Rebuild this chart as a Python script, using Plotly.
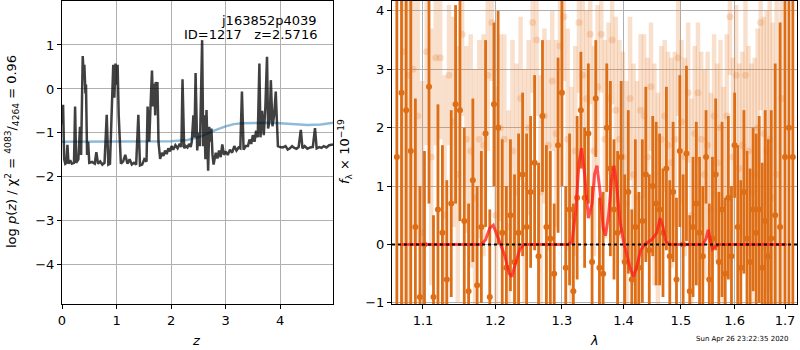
import plotly.graph_objects as go

# ---------------- left panel: log p(z) ----------------
z_grid = [0.00, 0.02, 0.04, 0.06, 0.08, 0.10, 0.12, 0.15, 0.18, 0.22, 0.24, 0.26, 0.30, 0.33, 0.35,
          0.38, 0.40, 0.41, 0.43, 0.44, 0.46, 0.48, 0.50, 0.55, 0.60, 0.63, 0.66, 0.70, 0.74, 0.78,
          0.82, 0.85, 0.88, 0.92, 0.94, 0.96, 0.98, 1.00, 1.02, 1.04, 1.06, 1.08, 1.12, 1.16, 1.20,
          1.24, 1.28, 1.32, 1.36, 1.40, 1.43, 1.47, 1.51, 1.55, 1.57, 1.60, 1.62, 1.65, 1.67, 1.69,
          1.71, 1.72, 1.74, 1.75, 1.77, 1.80, 1.83, 1.86, 1.89, 1.92, 1.95, 1.98, 2.01, 2.04, 2.08,
          2.12, 2.16, 2.19, 2.21, 2.24, 2.27, 2.30, 2.33, 2.36, 2.38, 2.41, 2.43, 2.45, 2.48, 2.50,
          2.53, 2.55, 2.57, 2.59, 2.61, 2.63, 2.65, 2.68, 2.70, 2.72, 2.74, 2.76, 2.78, 2.82, 2.85,
          2.88, 2.91, 2.94, 2.97, 3.00, 3.04, 3.08, 3.12, 3.16, 3.20, 3.24, 3.27, 3.30, 3.33, 3.37,
          3.41, 3.44, 3.47, 3.50, 3.53, 3.56, 3.59, 3.62, 3.64, 3.67, 3.70, 3.73, 3.76, 3.78, 3.81,
          3.83, 3.86, 3.89, 3.92, 3.94, 3.96, 4.00, 4.05, 4.10, 4.14, 4.18, 4.22, 4.26, 4.30, 4.34,
          4.38, 4.41, 4.45, 4.50, 4.55, 4.60, 4.64, 4.67, 4.72, 4.76, 4.80, 4.85, 4.90, 4.97]
logpz = [-0.80, -0.36, -1.60, -1.70, -1.68, -1.27, -1.70, -1.62, -1.70, -1.68, -0.40, -1.68, -1.60, -0.86, -1.50,
         0.75, 0.30, 0.55, -0.10, 0.10, -1.50, -1.20, -1.68, -1.66, -1.70, -1.44, -1.70, -1.65, -1.72, -1.68,
         -0.59, -1.72, -1.70, -0.30, 0.55, -0.20, 0.58, 0.10, 0.55, -0.60, -1.30, -1.70, -1.65, -1.50, -1.70,
         -1.60, -1.72, -1.68, -1.72, -0.59, -1.74, -1.72, -1.60, -1.65, -0.40, -1.20, -0.50, 0.42, -0.40, 0.12,
         -0.60, 0.16, -0.20, 0.16, -1.21, -1.59, -1.45, -1.52, -1.40, -1.48, -1.35, -1.42, -1.30, -1.38, -1.28,
         -1.35, -1.25, -1.32, 0.22, -1.35, -1.30, -1.33, -1.25, -1.32, -1.20, -0.60, -1.10, 0.36, -1.40, -1.00,
         -1.30, 0.20, 1.11, -1.30, -0.60, -1.60, -0.48, -1.86, -0.86, -1.20, -0.90, -1.50, -1.72, -1.45, -1.58,
         -1.40, -1.55, -1.26, -1.50, -1.42, -1.50, -1.38, -1.45, -1.30, -1.40, -1.33, -1.35, -0.06, -1.38, -1.30,
         -1.30, -1.15, -1.25, -1.05, -1.20, -0.95, -1.10, 0.58, -1.10, -0.50, -1.05, -0.40, 0.73, -0.90, -0.70,
         0.20, -0.85, -0.60, -0.06, -0.70, -1.30, -1.32, -1.33, -1.30, -1.38, -1.35, -1.30, -1.34, -1.36, -1.32,
         -0.93, -1.35, -1.30, -1.36, -1.33, -1.32, -0.89, -1.35, -1.32, -1.34, -1.30, -1.33, -1.28, -1.26]

z_prior = [0.0, 0.5, 1.0, 1.5, 2.0, 2.3, 2.5, 2.7, 2.8, 3.0, 3.15, 3.3, 3.5, 3.8, 4.0, 4.2, 4.5, 4.75, 4.97]
logp_prior = [-1.20, -1.20, -1.20, -1.20, -1.19, -1.16, -1.10, -1.00, -0.94, -0.85, -0.80, -0.78, -0.77, -0.77,
              -0.78, -0.80, -0.82, -0.81, -0.77]

# ---------------- right panel: spectrum ----------------
wave_dark = [1.066, 1.072, 1.078, 1.084, 1.090, 1.096, 1.102, 1.108, 1.114, 1.120, 1.126, 1.132, 1.138, 1.144,
             1.150, 1.156, 1.162, 1.168, 1.174, 1.180, 1.186, 1.192, 1.198, 1.204, 1.210, 1.216, 1.222, 1.228,
             1.234, 1.240, 1.246, 1.252, 1.258, 1.264, 1.270, 1.276, 1.282, 1.288, 1.294, 1.300, 1.306, 1.312,
             1.318, 1.324, 1.330, 1.336, 1.342, 1.348, 1.354, 1.360, 1.366, 1.372, 1.378, 1.384, 1.390, 1.396,
             1.402, 1.408, 1.414, 1.420, 1.426, 1.432, 1.438, 1.444, 1.450, 1.456, 1.462, 1.468, 1.474, 1.480,
             1.486, 1.492, 1.498, 1.504, 1.510, 1.516, 1.522, 1.528, 1.534, 1.540, 1.546, 1.552, 1.558, 1.564,
             1.570, 1.576, 1.582, 1.588, 1.594, 1.600, 1.606, 1.612, 1.618, 1.624, 1.630, 1.636, 1.642, 1.648,
             1.654, 1.660, 1.666, 1.672, 1.680, 1.690, 1.700, 1.708, 1.716]
flux_dark = [1.5, 2.6, 2.3, 1.6, 0.3, -0.9, 0.0, 2.7, -0.9, 0.6, 0.2, -0.6, 0.7, 2.4,
             2.3, 0.4, -0.8, 1.1, -0.7, 0.3, 1.9, -0.9, 2.4, 2.0, 0.2, -0.4, 0.5, -0.3,
             0.2, 1.2, 0.3, 0.9, 1.4, -0.2, 2.2, 0.3, 0.1, -0.5, 1.7, 2.6, -0.4, 0.6,
             -0.8, 0.8, 2.3, 0.8, 1.9, -0.3, 2.5, -0.4, -0.5, 2.0, 1.3, 0.6, 0.2, 1.5,
             -0.3, 0.9, -0.6, 0.3, -0.4, 0.4, 1.2, -0.1, 1.0, 0.7, 0.6, 0.2, 1.3, -0.2,
             0.9, -0.6, 1.6, 0.0, 1.56, -0.8, 0.3, 0.7, 0.2, -0.2, 1.5, -0.6, 0.1, 1.2,
             -0.3, 0.6, -0.5, 0.8, -0.2, 1.7, 0.3, -0.4, 0.9, 0.1, -0.3, 0.6, 0.2, 0.6,
             -0.4, 0.4, -0.2, 0.1, 0.5, 0.3, 1.5, 2.0, 1.5]
err_dark = [6.0, 6.0, 5.5, 2.8, 2.2, 1.9, 1.6, 2.0, 1.4, 1.8, 1.5, 1.7, 1.6, 1.7,
            1.9, 1.6, 1.5, 1.4, 1.7, 1.3, 1.6, 1.5, 1.4, 2.0, 1.6, 1.4, 1.3, 1.5,
            1.7, 1.4, 1.6, 1.3, 1.5, 1.6, 1.3, 1.4, 1.5, 1.2, 1.5, 1.6, 1.4, 1.3,
            1.5, 1.4, 1.0, 1.2, 1.2, 1.3, 1.0, 1.2, 1.4, 1.1, 1.5, 1.2, 1.4, 1.3,
            1.5, 1.4, 1.2, 1.5, 1.3, 1.4, 1.5, 1.3, 1.2, 1.4, 1.3, 1.1, 1.4, 1.3,
            1.2, 1.4, 1.3, 1.2, 1.5, 1.3, 1.2, 1.4, 1.3, 1.2, 0.8, 1.3, 1.4, 1.3,
            1.2, 1.5, 1.3, 1.4, 1.2, 0.9, 1.4, 1.5, 1.4, 1.5, 1.6, 1.4, 1.7, 1.6,
            1.8, 1.9, 2.0, 2.2, 2.6, 3.5, 6.0, 6.0, 6.0]

wave_light = [1.075, 1.081, 1.087, 1.093, 1.099, 1.105, 1.111, 1.117, 1.123, 1.129, 1.135, 1.141, 1.147, 1.153,
              1.159, 1.165, 1.171, 1.177, 1.183, 1.189, 1.195, 1.201, 1.207, 1.213, 1.219, 1.225, 1.231, 1.237,
              1.243, 1.249, 1.255, 1.261, 1.267, 1.273, 1.279, 1.285, 1.291, 1.297, 1.303, 1.309, 1.315, 1.321,
              1.327, 1.333, 1.339, 1.345, 1.351, 1.357, 1.363, 1.369, 1.375, 1.381, 1.387, 1.393, 1.399, 1.405,
              1.411, 1.417, 1.423, 1.429, 1.435, 1.441, 1.447, 1.453, 1.459, 1.465, 1.471, 1.477, 1.483, 1.489,
              1.495, 1.501, 1.507, 1.513, 1.519, 1.525, 1.531, 1.537, 1.543, 1.549, 1.555, 1.561, 1.567, 1.573,
              1.579, 1.585, 1.591, 1.597, 1.603, 1.609, 1.615, 1.621, 1.627, 1.633, 1.639, 1.645, 1.651, 1.657,
              1.663, 1.669, 1.675, 1.683, 1.693]
flux_light = [3.3, 2.9, 3.0, 2.2, 0.2, 3.3, 1.5, 3.2, 3.2, 0.5, 2.9, 2.1, 1.2, 3.6,
              1.8, 1.6, 0.8, 1.8, 1.7, 2.9, 3.8, 0.5, 2.0, 1.8, 0.3, 1.6, 0.9, 2.5,
              1.0, 2.0, 3.8, 3.5, 0.9, 2.2, 1.7, 2.8, 1.9, 3.4, 3.9, 1.8, 0.5, 1.6,
              3.8, 2.9, 2.5, 3.6, 1.6, 2.7, 3.6, 1.8, 2.5, 3.5, 2.3, 1.8, 1.5, 0.7,
              2.5, 1.2, 0.8, 2.3, 2.2, 1.5, 2.7, 1.2, 0.6, 1.8, 2.2, 1.7, 1.4, 1.8,
              3.2, 2.1, 1.5, 2.6, 0.5, 1.9, 2.6, 1.8, 1.2, 1.7, 0.6, 2.2, 1.4, 2.0,
              0.7, 2.2, 3.9, 1.5, 2.9, 1.3, 1.7, 2.9, 1.6, 0.9, 1.2, 2.0, 3.8, 1.9,
              1.6, 1.8, 0.8, 1.2, 2.5]
err_light = [6.0, 6.0, 3.0, 2.2, 2.6, 1.6, 2.2, 1.5, 1.4, 2.4, 1.2, 1.8, 2.2, 1.4,
             1.6, 2.0, 2.2, 1.7, 1.9, 1.3, 1.0, 2.2, 1.6, 1.8, 2.0, 1.9, 2.2, 1.4,
             2.0, 1.5, 1.2, 1.3, 2.0, 1.5, 1.8, 1.2, 1.6, 1.4, 1.1, 1.9, 2.2, 1.8,
             1.2, 1.6, 1.5, 1.2, 1.8, 1.4, 1.0, 1.7, 1.3, 1.1, 1.6, 1.7, 1.8, 2.1,
             1.4, 1.9, 2.0, 1.3, 1.4, 1.7, 1.1, 1.9, 2.0, 1.6, 1.3, 1.6, 1.8, 1.5,
             1.0, 1.4, 1.7, 1.2, 2.0, 1.5, 1.2, 1.5, 1.8, 1.6, 2.0, 1.4, 1.7, 1.5,
             2.0, 1.4, 1.0, 1.7, 1.2, 1.8, 1.6, 1.3, 1.8, 2.2, 2.0, 1.7, 1.5, 2.0,
             2.4, 2.6, 3.0, 3.5, 6.0]

wave_model = [1.072, 1.180, 1.186, 1.192, 1.197, 1.202, 1.208, 1.214, 1.220, 1.224, 1.230, 1.236, 1.242,
              1.310, 1.316, 1.322, 1.327, 1.331, 1.336, 1.342, 1.348, 1.352, 1.356, 1.361, 1.366, 1.370,
              1.375, 1.380, 1.384, 1.389, 1.394, 1.400, 1.405, 1.411, 1.417, 1.423, 1.429, 1.436, 1.448,
              1.457, 1.463, 1.468, 1.473, 1.480, 1.540, 1.546, 1.550, 1.554, 1.558, 1.564, 1.572, 1.703]
flux_model = [0.0, 0.0, 0.08, 0.28, 0.33, 0.18, 0.0, -0.2, -0.5, -0.55, -0.3, -0.08, 0.0,
              0.0, 0.05, 0.6, 1.4, 1.65, 1.2, 0.45, 0.7, 1.2, 1.35, 0.9, 0.3, 0.15,
              0.5, 1.1, 1.35, 0.95, 0.4, 0.05, -0.15, -0.4, -0.55, -0.35, -0.1, 0.0, 0.08,
              0.2, 0.45, 0.3, 0.05, 0.0, 0.0, 0.1, 0.25, 0.05, -0.08, -0.03, 0.0, 0.0]

left_xticks = [0, 1, 2, 3, 4]
left_yticks = [-4, -3, -2, -1, 0, 1]
right_xticks = [1.1, 1.2, 1.3, 1.4, 1.5, 1.6, 1.7]
right_yticks = [-1, 0, 1, 2, 3, 4]

W, H = 800, 350
FONT = "DejaVu Sans"
ORANGE = "rgb(221,110,22)"
ORANGE_LIGHT = "rgba(228,125,45,0.24)"

fig = go.Figure()

fig.add_trace(go.Scatter(x=z_prior, y=logp_prior, mode="lines", xaxis="x", yaxis="y",
                         line=dict(color="rgba(31,119,180,0.5)", width=2.5), showlegend=False))
fig.add_trace(go.Scatter(x=z_grid, y=logpz, mode="lines", xaxis="x", yaxis="y",
                         line=dict(color="rgba(0,0,0,0.75)", width=2.5), showlegend=False))

fig.add_trace(go.Scatter(x=wave_light, y=flux_light, mode="markers", xaxis="x2", yaxis="y2",
                         marker=dict(color=ORANGE_LIGHT, size=7, line=dict(width=0)),
                         error_y=dict(type="data", array=err_light, color=ORANGE_LIGHT, thickness=4.5, width=0),
                         showlegend=False))
fig.add_trace(go.Scatter(x=wave_dark, y=flux_dark, mode="markers", xaxis="x2", yaxis="y2",
                         marker=dict(color=ORANGE, size=6, line=dict(width=0)),
                         error_y=dict(type="data", array=err_dark, color=ORANGE, thickness=2.8, width=0),
                         showlegend=False))
fig.add_trace(go.Scatter(x=wave_model, y=flux_model, mode="lines", xaxis="x2", yaxis="y2",
                         line=dict(color="rgba(255,25,25,0.75)", width=3), showlegend=False))

px_top, px_bot = 1, 304
ydom = [1 - px_bot / H, 1 - px_top / H]

axis_common = dict(showline=True, linecolor="black", linewidth=1.2, mirror=True,
                   ticks="outside", ticklen=4, tickcolor="black", automargin=False,
                   showgrid=True, gridcolor="#b0b0b0", gridwidth=1, zeroline=False,
                   tickfont=dict(family=FONT, size=13, color="black"))

fig.update_layout(
    width=W, height=H, margin=dict(l=0, r=0, t=0, b=0, pad=0, autoexpand=False),
    paper_bgcolor="white", plot_bgcolor="white",
    font=dict(family=FONT, size=13, color="black"),
    xaxis=dict(domain=[62 / W, 333 / W], range=[0, 4.97], tickvals=left_xticks, anchor="y", **axis_common),
    yaxis=dict(domain=ydom, range=[-4.89, 2.0], tickvals=left_yticks, anchor="x", **axis_common),
    xaxis2=dict(domain=[392 / W, 797 / W], type="log", range=[0.02522, 0.2367], tickvals=right_xticks,
                ticktext=[str(v) for v in right_xticks], anchor="y2", **axis_common),
    yaxis2=dict(domain=ydom, range=[-1.02, 4.17], tickvals=right_yticks, anchor="x2", **axis_common),
    shapes=[dict(type="line", xref="x2 domain", yref="y2", x0=0, x1=1, y0=0, y1=0,
                 line=dict(color="black", width=2, dash="dot"), layer="above")],
)

ann = [
    dict(text="j163852p4039", x=319 / W, y=1 - 20 / H, xanchor="right", yanchor="middle"),
    dict(text="ID=1217\u00a0\u00a0\u00a0z=2.5716", x=319 / W, y=1 - 34 / H, xanchor="right", yanchor="middle"),
    dict(text="<i>z</i>", x=196 / W, y=1 - 340 / H, xanchor="center", yanchor="middle"),
    dict(text="<i>λ</i>", x=594 / W, y=1 - 340 / H, xanchor="center", yanchor="middle"),
    dict(text="log <i>p</i>(<i>z</i>) / χ<sup>2</sup> = <sup>4083</sup>/<sub>4264</sub> = 0.96",
         x=12 / W, y=1 - 152 / H, textangle=-90, xanchor="center", yanchor="middle"),
    dict(text="<i>f</i><sub>λ</sub> × 10<sup>−19</sup>", x=345 / W, y=1 - 152 / H, textangle=-90,
         xanchor="center", yanchor="middle"),
    dict(text="Sun Apr 26 23:22:35 2020", x=742 / W, y=1 - 339 / H, xanchor="center", yanchor="middle",
         font=dict(size=7)),
]
for a in ann:
    a.setdefault("font", dict(size=13))
    a["font"]["family"] = FONT
    a["font"]["color"] = "black"
    fig.add_annotation(xref="paper", yref="paper", showarrow=False, **a)

fig.write_html("out.html")
